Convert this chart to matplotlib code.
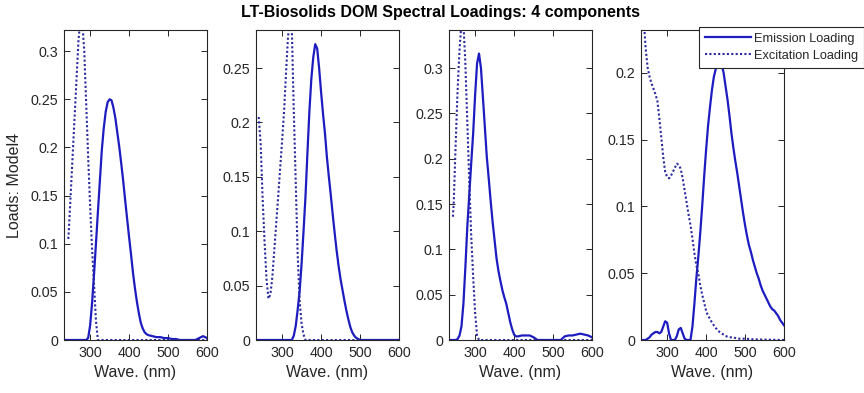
import numpy as np
import matplotlib
matplotlib.use("Agg")
import matplotlib.pyplot as plt
from matplotlib.ticker import FuncFormatter, MultipleLocator

plt.rcParams['font.family'] = ['Liberation Sans', 'DejaVu Sans']

## Emission / excitation loadings (wavelength in nm)
em_wl_1 = [233, 290] + list(range(295, 455, 5)) + [460, 470, 480, 490, 500, 510, 520, 530, 570, 580, 590, 600]
em_1 = [0, 0,
        0.002, 0.015, 0.038, 0.068, 0.1, 0.133, 0.165, 0.197, 0.22, 0.237, 0.247, 0.25,
        0.249, 0.241, 0.23, 0.215, 0.2, 0.183, 0.165, 0.145, 0.126, 0.107, 0.089, 0.07,
        0.054, 0.04, 0.028, 0.018, 0.012, 0.008, 0.006, 0.005,
        0.004, 0.003, 0.003, 0.002, 0.002, 0.001, 0.001, 0, 0, 0.002, 0.004, 0.002]
ex_wl_1 = [244] + list(range(245, 325, 5)) + [600]
ex_1 = [0.105, 0.111, 0.15, 0.19, 0.23, 0.27, 0.31, 0.334, 0.33, 0.3, 0.245, 0.19,
        0.14, 0.095, 0.058, 0.02, 0, 0]

em_wl_2 = [233, 325] + list(range(330, 505, 5)) + [600]
em_2 = [0, 0,
        0.004, 0.013, 0.028, 0.045, 0.07, 0.1, 0.132, 0.172, 0.21, 0.24, 0.26, 0.272,
        0.268, 0.25, 0.228, 0.208, 0.19, 0.168, 0.15, 0.133, 0.115, 0.098, 0.082, 0.068,
        0.056, 0.046, 0.036, 0.027, 0.019, 0.012, 0.007, 0.004, 0.002, 0.001, 0, 0]
ex_wl_2 = list(range(240, 365, 5)) + [600]
ex_2 = [0.205, 0.18, 0.13, 0.09, 0.056, 0.038, 0.042, 0.058, 0.083, 0.108, 0.132, 0.158,
        0.183, 0.21, 0.245, 0.278, 0.295, 0.285, 0.21, 0.145, 0.078, 0.036, 0.015, 0.005,
        0, 0]

em_wl_3 = [233, 250] + list(range(255, 415, 5)) + [420, 430, 440, 450, 460] + list(range(520, 610, 10))
em_3 = [0, 0,
        0.001, 0.005, 0.015, 0.04, 0.08, 0.125, 0.16, 0.195, 0.228, 0.27, 0.305, 0.316,
        0.3, 0.268, 0.235, 0.202, 0.178, 0.153, 0.13, 0.11, 0.09, 0.076, 0.065, 0.055,
        0.047, 0.04, 0.03, 0.02, 0.012, 0.006, 0.004, 0.004,
        0.005, 0.005, 0.005, 0.003, 0,
        0, 0.004, 0.005, 0.005, 0.006, 0.007, 0.006, 0.005, 0.003]
ex_wl_3 = [243] + list(range(245, 315, 5)) + [600]
ex_3 = [0.136, 0.15, 0.215, 0.275, 0.32, 0.35, 0.35, 0.305, 0.24, 0.175, 0.115, 0.07,
        0.03, 0.005, 0, 0]

em_wl_4 = [233, 245] + list(range(250, 315, 5)) + list(range(320, 355, 5)) + [360] + list(range(365, 605, 5))
em_4 = [0, 0,
        0.001, 0.002, 0.004, 0.005, 0.006, 0.006, 0.005, 0.006, 0.01, 0.014, 0.013, 0.005, 0,
        0, 0.003, 0.008, 0.009, 0.005, 0.001, 0,
        0,
        0.01, 0.027, 0.046, 0.062, 0.08, 0.1, 0.122, 0.142, 0.16, 0.174,
        0.187, 0.197, 0.203, 0.206, 0.207, 0.206, 0.2, 0.19, 0.18, 0.168,
        0.155, 0.144, 0.134, 0.125, 0.115, 0.105, 0.095, 0.086, 0.078, 0.071,
        0.066, 0.06, 0.055, 0.05, 0.046, 0.041, 0.037, 0.034, 0.031, 0.028,
        0.025, 0.023, 0.022, 0.02, 0.018, 0.015, 0.013, 0.011]
ex_wl_4 = list(range(235, 455, 5)) + [460, 470, 480, 500, 520, 550, 600]
ex_4 = [0.25, 0.24, 0.218, 0.204, 0.197, 0.192, 0.188, 0.184, 0.179, 0.166, 0.152,
        0.137, 0.126, 0.122, 0.121, 0.123, 0.126, 0.129, 0.132, 0.131, 0.128,
        0.121, 0.112, 0.103, 0.094, 0.086, 0.076, 0.065, 0.056, 0.05, 0.041,
        0.034, 0.028, 0.022, 0.018, 0.016, 0.013, 0.011, 0.009, 0.007, 0.006,
        0.005, 0.004, 0.003,
        0.002, 0.002, 0.001, 0.001, 0.0005, 0.0003, 0]

y_tops = [0.322, 0.285, 0.342, 0.232]
x_ticks = [300, 400, 500, 600]

panels = [(em_wl_1, em_1, ex_wl_1, ex_1),
          (em_wl_2, em_2, ex_wl_2, ex_2),
          (em_wl_3, em_3, ex_wl_3, ex_3),
          (em_wl_4, em_4, ex_wl_4, ex_4)]

em_col = '#1c1cc0'
ex_col = '#28289e'
axis_col = '#262626'

fig = plt.figure(figsize=(8.64, 3.93), dpi=100)

## axes boxes in pixels (left edge), all same size
lefts = [64, 256, 449, 641]
for i, (ewl, em, xwl, ex) in enumerate(panels):
    ax = fig.add_axes([lefts[i] / 864, 1 - 340 / 393, 143 / 864, 310 / 393])
    h_em, = ax.plot(ewl, em, color=em_col, lw=1.6, label='Emission Loading')
    h_ex, = ax.plot(xwl, ex, color=ex_col, lw=1.5, dashes=(1, 1.1),
                    label='Excitation Loading')
    ax.set_xlim(233, 600)
    ax.set_ylim(0, y_tops[i])
    ax.set_xticks(x_ticks)
    ax.yaxis.set_major_locator(MultipleLocator(0.05))
    ax.yaxis.set_major_formatter(FuncFormatter(lambda v, p: '%g' % round(v, 3)))
    ax.tick_params(direction='in', top=True, right=True, length=4, width=0.7,
                   labelsize=10.3, colors=axis_col, pad=4)
    for s in ax.spines.values():
        s.set_color(axis_col)
        s.set_linewidth(0.8)
    ax.set_xlabel('Wave. (nm)', fontsize=11.5, color=axis_col, labelpad=4)
    if i == 0:
        ax.set_ylabel('Loads: Model4', fontsize=11.5, color=axis_col, labelpad=6)

fig.text(441 / 864, 1 - 12 / 393, 'LT-Biosolids DOM Spectral Loadings: 4 components',
         ha='center', va='center', fontsize=11.5, fontweight='bold', color='black')

leg = fig.legend([h_em, h_ex], ['Emission Loading', 'Excitation Loading'],
                 loc='upper right', bbox_to_anchor=(1.0, 1 - 27 / 393),
                 fontsize=9.2, handlelength=3.6, handletextpad=0.25,
                 borderpad=0.45, labelspacing=0.4, borderaxespad=0,
                 fancybox=False, framealpha=1, edgecolor=axis_col)
leg.get_frame().set_linewidth(0.8)
for t in leg.get_texts():
    t.set_color(axis_col)

plt.savefig('out.png', dpi=100)
